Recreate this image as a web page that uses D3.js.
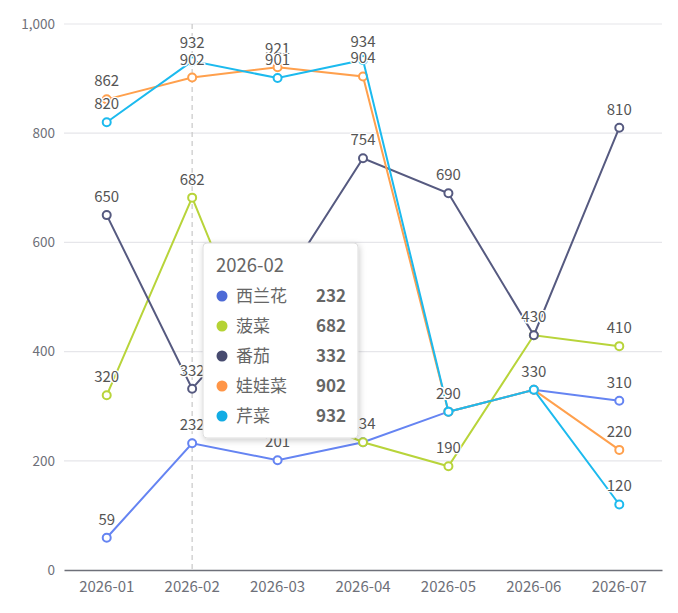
<!DOCTYPE html>
<html>
<head>
<meta charset="utf-8">
<script src="https://cdn.jsdelivr.net/npm/d3@7"></script>
<style>
  body { margin: 0; background: #fff; }
  svg { display: block; font-family: "Noto Sans CJK SC", "Noto Sans", sans-serif; }
</style>
</head>
<body>
<svg id="chart"></svg>
<script>
var months = ["2026-01", "2026-02", "2026-03", "2026-04", "2026-05", "2026-06", "2026-07"];
var seriesNames = ["西兰花", "菠菜", "番茄", "娃娃菜", "芹菜"];
var broccoli = [59, 232, 201, 234, 290, 330, 310];
var spinach = [320, 682, 300, 234, 190, 430, 410];
var tomato = [650, 332, 510, 754, 690, 430, 810];
var cabbage = [862, 902, 921, 904, 290, 330, 220];
var celery = [820, 932, 901, 934, 290, 330, 120];
var yTicks = [0, 200, 400, 600, 800, 1000];
var hoverMonth = "2026-02";

var lineColors = ["#6584f2", "#b8d43a", "#565a80", "#ffa04d", "#1cbaee"];
var dotColors = ["#4d6ad6", "#b5d334", "#474b6f", "#ff9547", "#12ace4"];
var allValues = [broccoli, spinach, tomato, cabbage, celery];

var width = 678, height = 613;
var margin = {top: 24, right: 16, bottom: 43, left: 64};

var svg = d3.select("#chart")
  .attr("width", width)
  .attr("height", height);

var x = d3.scaleBand()
  .domain(months)
  .range([margin.left, width - margin.right]);

var y = d3.scaleLinear()
  .domain([0, 1000])
  .range([height - margin.bottom, margin.top]);

var cx = function(m) { return x(m) + x.bandwidth() / 2; };

// grid lines
svg.append("g")
  .selectAll("line")
  .data(yTicks.slice(1))
  .enter().append("line")
    .attr("x1", margin.left)
    .attr("x2", width - margin.right)
    .attr("y1", d => y(d))
    .attr("y2", d => y(d))
    .style("stroke", "#e6e6ea")
    .style("stroke-width", 1.2);

// y axis labels
svg.append("g")
  .selectAll("text")
  .data(yTicks)
  .enter().append("text")
    .attr("x", margin.left - 9)
    .attr("y", d => y(d))
    .attr("dy", "0.35em")
    .attr("text-anchor", "end")
    .style("font-size", "13.5px")
    .style("fill", "#6e7079")
    .text(d => d3.format(",")(d));

// x axis
var xAxis = svg.append("g")
  .attr("transform", `translate(0, ${y(0)})`)
  .call(d3.axisBottom(x).tickSize(0).tickPadding(11));
xAxis.select(".domain").style("stroke", "#6e7079").style("stroke-width", 1.5);
xAxis.selectAll("text")
  .style("font-size", "15px")
  .style("fill", "#6e7079")
  .style("font-family", "\"Noto Sans CJK SC\", sans-serif");

// hover pointer line
svg.append("line")
  .attr("x1", cx(hoverMonth))
  .attr("x2", cx(hoverMonth))
  .attr("y1", y(1000))
  .attr("y2", y(0))
  .style("stroke", "#c8c8c8")
  .style("stroke-width", 1.2)
  .style("stroke-dasharray", "5,4");

var line = d3.line()
  .x((d, i) => cx(months[i]))
  .y(d => y(d));

var seriesGroup = svg.append("g");
allValues.forEach(function(vals, s) {
  var g = seriesGroup.append("g");
  g.append("path")
    .attr("d", line(vals))
    .style("fill", "none")
    .style("stroke", lineColors[s])
    .style("stroke-width", 2);
  g.selectAll("circle")
    .data(vals)
    .enter().append("circle")
      .attr("cx", (d, i) => cx(months[i]))
      .attr("cy", d => y(d))
      .attr("r", 4)
      .style("fill", "#fff")
      .style("stroke", lineColors[s])
      .style("stroke-width", 2);
});

// value labels
var labelGroup = svg.append("g");
allValues.forEach(function(vals, s) {
  labelGroup.selectAll(null)
    .data(vals)
    .enter().append("text")
      .attr("x", (d, i) => cx(months[i]))
      .attr("y", d => y(d) - 13)
      .attr("text-anchor", "middle")
      .style("font-size", "15px")
      .style("fill", "#555")
      .style("stroke", "#fff")
      .style("stroke-width", 2.5)
      .style("stroke-linejoin", "round")
      .style("paint-order", "stroke")
      .text(d => d);
});

// tooltip
var hi = months.indexOf(hoverMonth);
var tip = svg.append("g").attr("transform", "translate(203, 243)");
var defs = svg.append("defs");
var filter = defs.append("filter").attr("id", "shadow").attr("x", "-20%").attr("y", "-20%").attr("width", "140%").attr("height", "140%");
filter.append("feDropShadow").attr("dx", 1).attr("dy", 2).attr("stdDeviation", 3).attr("flood-color", "#000").attr("flood-opacity", 0.2);
tip.append("rect")
  .attr("width", 155)
  .attr("height", 195)
  .attr("rx", 4)
  .style("fill", "#fff")
  .style("stroke", "#ddd")
  .style("filter", "url(#shadow)");
tip.append("text")
  .attr("x", 13)
  .attr("y", 23)
  .attr("dy", "0.35em")
  .style("font-size", "18.5px")
  .style("fill", "#666")
  .text(hoverMonth);
seriesNames.forEach(function(name, s) {
  var ry = 53 + s * 30;
  tip.append("circle")
    .attr("cx", 19)
    .attr("cy", ry)
    .attr("r", 5.5)
    .style("fill", dotColors[s]);
  tip.append("text")
    .attr("x", 33)
    .attr("y", ry)
    .attr("dy", "0.35em")
    .style("font-size", "17px")
    .style("fill", "#666")
    .text(name);
  tip.append("text")
    .attr("x", 143)
    .attr("y", ry)
    .attr("dy", "0.35em")
    .attr("text-anchor", "end")
    .style("font-size", "17px")
    .style("font-weight", "bold")
    .style("fill", "#666")
    .text(allValues[s][hi]);
});
</script>
</body>
</html>
